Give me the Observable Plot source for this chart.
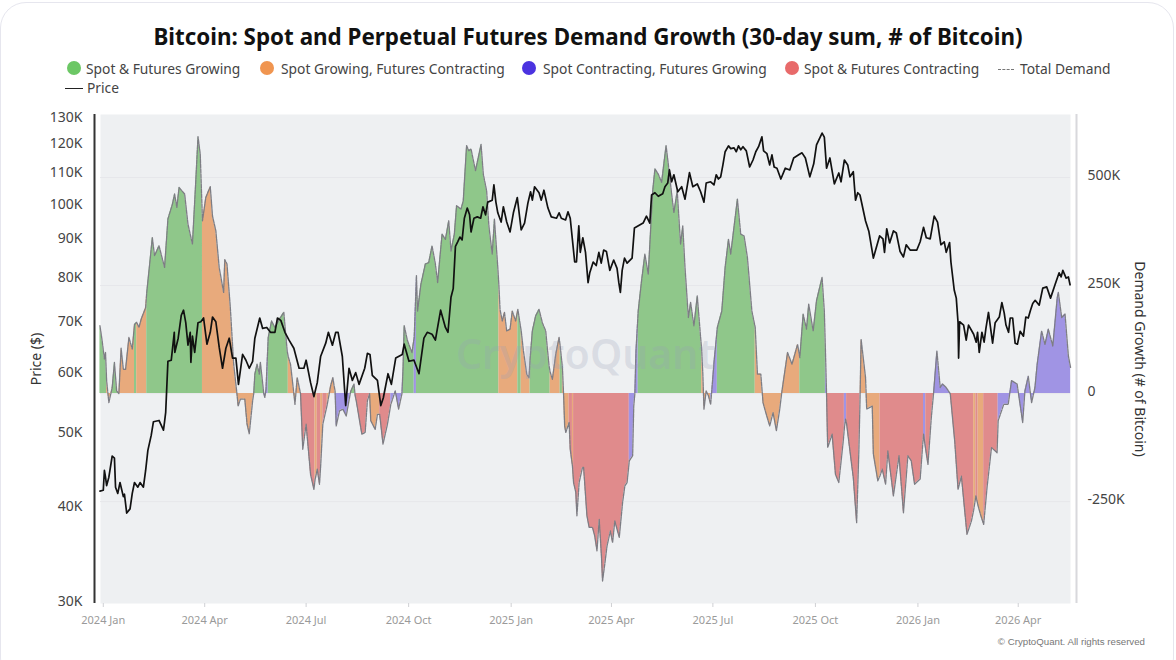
<!DOCTYPE html>
<html><head><meta charset="utf-8">
<script src="https://cdn.jsdelivr.net/npm/d3@7"></script>
<script src="https://cdn.jsdelivr.net/npm/@observablehq/plot@0.6"></script>
<style>
html,body{margin:0;padding:0;background:#fff;width:1176px;height:660px;overflow:hidden;font-family:"Noto Sans",sans-serif}
#card{position:absolute;left:0;top:2px;width:1172px;height:680px;border:1.5px solid #e6e6ee;border-radius:26px;box-sizing:content-box}
#title{position:absolute;left:0;width:1176px;top:21px;text-align:center;font-size:22.4px;font-weight:700;color:#111;line-height:32px;white-space:nowrap}
.lg{position:absolute;font-size:13.8px;color:#444;line-height:20px;white-space:nowrap}
.dot{position:absolute;width:14px;height:14px;border-radius:50%}
.ln{position:absolute;height:0}
#chart{position:absolute;left:0;top:100px;width:1176px;height:560px}
#chart svg{position:absolute;left:0;top:0}
#copy{position:absolute;right:31px;top:636px;font-size:9.7px;color:#777;font-family:"Liberation Sans",sans-serif}
</style></head><body>
<div id="card"></div>
<div id="title">Bitcoin: Spot and Perpetual Futures Demand Growth (30-day sum, # of Bitcoin)</div>
<div id="legend"></div>
<div id="chart"></div>
<div id="copy">© CryptoQuant. All rights reserved</div>
<script>
const regimeLabels = {G:"Spot & Futures Growing",O:"Spot Growing, Futures Contracting",P:"Spot Contracting, Futures Growing",R:"Spot & Futures Contracting"};
const regimeKeys = ["G","O","P","R"];
const regimeFills = ["#8fc78a","#e8aa7c","#a094e4","#e08b8c"];
const legendDots = ["#6cc765","#f09550","#4b33e0","#e86a6a"];

// days since 2024-01-01
const demandDays = [-3,-1,1,2,3,5,8,10,12,14,16,18,20,23,26,28,30,32,34,38,39,41,44,46,50,55,58,62,64,66,68,73,76,80,83,85,87,89,92,96,98,101,104,108,109,111,114,117,120,121,123,127,129,131,134,135,136,138,140,141,144,145,146,148,151,154,158,162,165,166,168,171,172,174,177,179,182,186,189,190,192,194,195,197,201,204,206,207,208,209,212,215,218,221,222,225,226,227,232,235,237,239,240,244,246,248,251,255,258,262,265,268,269,270,273,277,279,281,282,285,289,292,295,298,300,304,307,310,312,315,317,321,323,326,328,330,334,339,341,344,346,349,351,354,355,356,358,360,362,365,367,370,372,375,377,380,382,383,385,388,391,394,397,400,401,403,406,409,410,412,413,414,415,418,419,421,422,424,425,427,430,431,434,436,439,441,443,445,447,448,450,452,455,457,459,463,466,468,470,472,475,476,477,478,480,483,486,489,493,495,498,501,505,507,510,512,515,518,520,522,525,527,530,533,536,537,538,539,541,543,545,546,548,551,555,558,561,563,565,569,572,575,578,582,585,587,590,592,594,598,601,604,607,609,614,618,623,625,628,631,633,637,640,645,647,648,649,650,654,657,660,664,665,666,667,670,673,676,678,679,680,684,685,690,691,695,697,699,702,704,709,714,718,722,725,728,733,736,738,740,743,745,748,751,753,756,760,764,767,770,775,779,781,783,785,787,790,793,797,802,803,808,812,815,820,825,827,830,833,836,838,842,845,848,852,856,857,860,863,866,868];
const demandK = [157,122,80,95,30,-21,14,72,6,0,105,56,56,130,103,160,165,153,172,199,234,284,361,319,342,292,404,438,462,431,477,462,392,346,492,595,554,400,454,479,411,377,292,234,310,300,199,68,-2,-29,-13,-13,-71,-93,-17,0,45,68,45,72,0,-9,10,130,168,153,172,188,99,85,68,0,-25,37,0,-129,-71,-187,-222,-200,-175,-210,-170,-71,-25,18,37,20,6,-75,-40,-36,-52,-9,5,22,-5,-17,-94,-90,-17,0,-63,-83,-48,-48,-117,-71,-25,6,-36,0,60,157,122,95,130,273,191,253,300,303,342,300,257,369,357,400,330,369,435,427,446,574,562,566,516,577,508,469,388,323,404,292,250,195,168,188,145,149,191,168,195,145,99,45,37,80,145,180,195,164,145,64,50,33,91,130,110,60,0,-75,-90,-67,-129,-168,-206,-229,-283,-206,-171,-171,-283,-310,-310,-330,-364,-291,-376,-434,-395,-353,-318,-345,-295,-333,-252,-214,-206,-156,-144,-29,0,99,191,261,323,276,469,520,508,489,574,531,462,419,469,346,388,292,176,211,157,226,130,100,45,-36,6,-5,-25,6,72,153,191,292,357,323,365,450,369,365,315,191,153,45,45,-21,-40,-75,-44,-86,-36,6,95,68,114,83,184,149,207,145,215,269,191,100,0,-125,-94,-187,-206,-110,-80,-59,-70,-133,-195,-299,-133,-20,126,37,-36,-29,-140,-202,-190,-175,-210,-133,-237,-144,-276,-144,-156,-210,-198,-94,-130,-164,-56,0,99,14,22,15,0,-110,-222,-191,-326,-295,-270,-237,-260,-279,-303,-218,-125,-137,-63,-25,-25,30,22,-67,6,40,-21,14,68,145,114,149,110,222,234,176,184,87,60];

const regimeStart = [-3,3,8,14,28,30,39,89,135,144,148,166,177,190,192,195,197,201,208,222,226,239,248,258,269,279,281,355,372,375,383,401,410,412,418,421,422,472,480,537,545,551,585,625,648,649,665,667,679,697,736,738,745,760,781,783,785,790,803];
const regimeCode  = ["G","O","G","O","G","O","G","O","G","P","G","O","R","O","R","O","R","O","P","G","R","O","R","P","G","P","G","O","G","O","G","O","G","O","R","O","R","P","G","O","P","G","O","G","P","R","P","R","O","R","P","R","P","R","O","R","O","R","P"];

const priceDays2024a = [-3,0,1,2,3,5,8,10,11,13,15,18,19,21,24,26,28,31,33,36,38,40,43,45,50,54,55];
const priceK2024a = [41.9,42,44.6,43.7,42.6,43.7,46.6,46.3,42.4,41.6,43,41.2,41.5,39.2,39.7,41.6,43,42.4,43,42.4,44.6,47.4,49.6,51.7,51.9,50.4,51.7];
const priceDays2024b = [56,58,61,63.7,64.2,67.2,70,72,74,76,78,78.6,80,82,85,87.5,90,93,96,98,101,104,107,110,113,116,119,121.3,125,128,131,134,136,140.4,143,146.7,150,154,156.3,159.3,163,166.7,171,175.7,180,182,186,189,192,195,199.6,202,205.6,208.6,210.7,214.5,217.5,220.5,223.5,226.5,229.5,234.6,237,239.3,241.4,246,249,251.3,255.5,258.5,262.4,268.3,270,274.3,278.8,283.3,287.7,290.7,295,298,302.7,307,309.3];
const priceK2024b = [53.2,62.1,62.3,67.8,63.8,66.6,71.4,72.5,69.8,65.2,67.8,61.9,67,63.8,69.8,70,70.8,65.4,67.8,71,70,64.8,60.8,64.6,66.6,62.7,62.7,57.9,63.4,62.3,60.8,62.1,66.6,70.8,68.6,68.8,67.8,67.8,70.8,70.3,67.8,66.2,64.6,60.8,60.8,62.3,58.2,55.8,58.2,63,65.6,67.8,65.2,67.8,67.8,63,54.3,60.8,58.6,60,57.9,60.8,63.6,63.4,59.5,58.6,54.3,55.6,59.8,57.9,62.7,63.4,65.4,62.1,62.3,59.8,66.6,67.8,67.4,66.2,72.5,68.8,67.8];
const priceDays2025a = [312,314,316,318,320,322,324,326.6,328.7,330,332.6,335.6,338.6,340.7,343,345,349,350.5,352.3,354,357,359,362,365,368,371.5,375,378,381,383.4,385,387,391,393,395.4,399,402,406.7,409,411,414.8,417,419,423,424.6,426.7,428,430.3,432.7,435,436.6,439.6,442.3,444.7,446.8,449,451.5,454.5,458,461,462.6,464,465.6,467.7,470,474.5,476.6,480.5,484.4,487.4,490.4];
const priceK2025a = [75.4,77.4,88,89.2,90.5,89.7,95.8,98.8,96.8,91.9,95.8,96.2,95.8,99.2,96.8,100.6,101.2,106,100.6,97.4,94.7,99.2,94.7,91.9,97.4,102,92.5,94.4,100.3,103.8,101.2,105.4,103.5,101.2,104.3,98.8,96.2,95.8,97.4,95.8,95.3,97.7,95.8,83.9,83.9,93.6,86.4,90.3,86.4,78.8,81.3,83.9,83,86.4,83.6,87,86.6,81.8,84.4,82.3,78.8,76.5,81.8,84.9,83.6,84.9,93,93.7,94.4,96.4,94.4];
const priceDays2025b = [492,495,498,502,504,506.5,508,510,512,515.5,519,522,526,529,533,536,539,541,545,548,550,552,554,556,558,561,563,566,568,570,572,574,577,580,583,585.5,588,591,592.5,595.5,598,600,602,604.5,608,612,616,619.5,624,627,630,634,637.5,640,645,647,649,652,656,660,662,665,668,670,673,675,677,679];
const priceK2025b = [102.8,103.5,102.4,103.2,105.4,106.6,110.9,107,109.3,103.8,105.4,101.5,110,105.4,106.3,103.8,100.6,106.6,107,106,109.3,107.9,108.6,112.6,117.2,119.3,118.3,118.6,117.2,119.3,117.9,119,117.5,111.9,114.3,117.2,119,122.6,117.5,116.5,112.6,116.1,111.9,111.5,107.9,111.5,110.9,115,116.1,116.8,115,108.6,113,119.7,124,122.5,111.5,115,106.3,109.9,107,114.3,112.6,108.6,110.3,101.2,103.5,102.8];
const priceDays2026 = [684,687,691,693.6,696.6,699.6,701,703,705.6,709,711.6,715,718,720.5,724,730,733,736,738.5,742,745.6,748.6,751.6,754.6,756.4,759.4,760.6,763.6,765.4,767,767.5,768.4,772,774.3,776.4,781,783.3,784.5,786,788.4,790.4,792,794.3,798,800.3,804,806.3,808.4,810,812.3,813.8,816,818.2,820.3,822.7,825.7,827.8,830,832,834,836.2,839.8,843,846.6,850,854,857.7,859.5,861,864,866,867.5];
const priceK2026 = [95,92,84.9,87.6,90.8,90,86.4,92.8,88.9,92.2,91.6,86.6,85.2,88.4,87,87,89.2,93.2,90.3,90,96.4,94.7,88.4,89.2,86.4,89,83.9,77,75.2,69.8,62.7,70,69.3,66.2,69.3,67.4,65.8,67.8,63.8,67.8,65.8,68.6,72,65.6,69.8,71,74.2,71.9,69.3,67.8,70.8,70.8,65.6,65.4,68,67,71,70.8,72.5,74,74.7,73.6,77.5,77.8,75.2,78.3,81.2,80.2,81.8,79.9,80.2,78.3];
const priceDays = [...priceDays2024a,...priceDays2024b,...priceDays2025a,...priceDays2025b,...priceDays2026];
const priceK = [...priceK2024a,...priceK2024b,...priceK2025a,...priceK2025b,...priceK2026];

const priceTicks = [30,40,50,60,70,80,90,100,110,120,130];
const demandTicks = [-250,0,250,500];
const xTicks = ["2024-01-01","2024-04-01","2024-07-01","2024-10-01","2025-01-01","2025-04-01","2025-07-01","2025-10-01","2026-01-01","2026-04-01"].map(d=>new Date(d));

const toDate = d => new Date(Date.UTC(2024,0,1)+d*864e5);
const xDomain = [toDate(-2.5), toDate(867.9)];
const W = 1176, H = 560, mT = 14, mB = 57, mL = 100, mR = 106;

const demand = demandDays.map((d,i)=>({date:toDate(d),day:d,value:demandK[i]}));
const price = priceDays.map((d,i)=>({date:toDate(d),value:priceK[i]}));
const rows = regimeStart.flatMap((s,i)=>{
  const e = i+1<regimeStart.length ? regimeStart[i+1] : Infinity;
  return demand.filter(p=>p.day>=s && p.day<=e).map(p=>({...p,segment:i,regime:regimeCode[i]}));
});

const xScale = {type:"utc",domain:xDomain};
const base = {width:W,height:H,marginTop:mT,marginBottom:mB,marginLeft:mL,marginRight:mR,style:{background:"transparent",fontFamily:"'Noto Sans',sans-serif"}};

const demandPlot = Plot.plot({...base,
  x:xScale,
  y:{domain:[-486,646]},
  color:{domain:regimeKeys,range:regimeFills},
  marks:[
    Plot.frame({fill:"#eef0f2",stroke:null}),
    Plot.ruleY(demandTicks,{stroke:"#e6e7ea",strokeWidth:1}),
    Plot.areaY(rows,{x:"date",y1:0,y2:"value",z:"segment",fill:"regime"}),
    Plot.lineY(demand,{x:"date",y:"value",stroke:"#7d7d84",strokeWidth:1.3,strokeDasharray:"4 1"}),
    Plot.text(["CryptoQuant"],{frameAnchor:"middle",dy:-3,fontSize:41,fontWeight:600,fill:"#9aa0b8",fillOpacity:.26}),
    Plot.axisX({ticks:xTicks,tickFormat:d3.utcFormat("%Y %b"),tickSize:4,tickPadding:9,stroke:"#cfd0d4",color:"#9a9a9a",fontSize:11,label:null}),
    Plot.axisY({anchor:"right",ticks:demandTicks,tickSize:0,tickPadding:17,dy:-2.5,fontSize:14,color:"#444",
      tickFormat:d=>d===0?"0":d+"K",label:null}),
    Plot.text(["Demand Growth (# of Bitcoin)"],{frameAnchor:"right",textAnchor:"middle",dx:69,rotate:90,fontSize:14,fill:"#333"}),
    Plot.ruleX([xDomain[1]],{dx:6,stroke:"#d8d8dc",strokeWidth:2})
  ]
});

const pricePlot = Plot.plot({...base,
  x:{...xScale,axis:null},
  y:{type:"log",domain:[29.8,131.2]},
  marks:[
    Plot.line(price,{x:"date",y:"value",stroke:"#111",strokeWidth:1.7}),
    Plot.axisY({anchor:"left",ticks:priceTicks,tickSize:0,tickPadding:18,fontSize:14,color:"#444",
      tickFormat:d=>d+"K",label:null}),
    Plot.text(["Price ($)"],{frameAnchor:"left",textAnchor:"middle",dx:-64,rotate:-90,fontSize:14,fill:"#333"}),
    Plot.ruleX([xDomain[0]],{dx:-6,stroke:"#333",strokeWidth:2})
  ]
});
const chart=document.getElementById("chart");
chart.appendChild(demandPlot);chart.appendChild(pricePlot);

// legend
const lg=document.getElementById("legend");
const add=(cls,style,txt)=>{const e=document.createElement("div");e.className=cls;e.style.cssText=style;if(txt)e.textContent=txt;lg.appendChild(e);};
const dotX=[67,260,522,785], txtX=[86,281,543,804];
regimeKeys.forEach((k,i)=>{
  add("dot",`left:${dotX[i]}px;top:60.5px;background:${legendDots[i]}`);
  add("lg",`left:${txtX[i]}px;top:59px`,regimeLabels[k]);
});
add("ln","left:998px;top:68.5px;width:16px;border-top:1.2px dashed #777");
add("lg","left:1020px;top:59px","Total Demand");
add("ln","left:65px;top:88px;width:18px;border-top:1.8px solid #222");
add("lg","left:87px;top:78px","Price");
</script>
</body></html>
